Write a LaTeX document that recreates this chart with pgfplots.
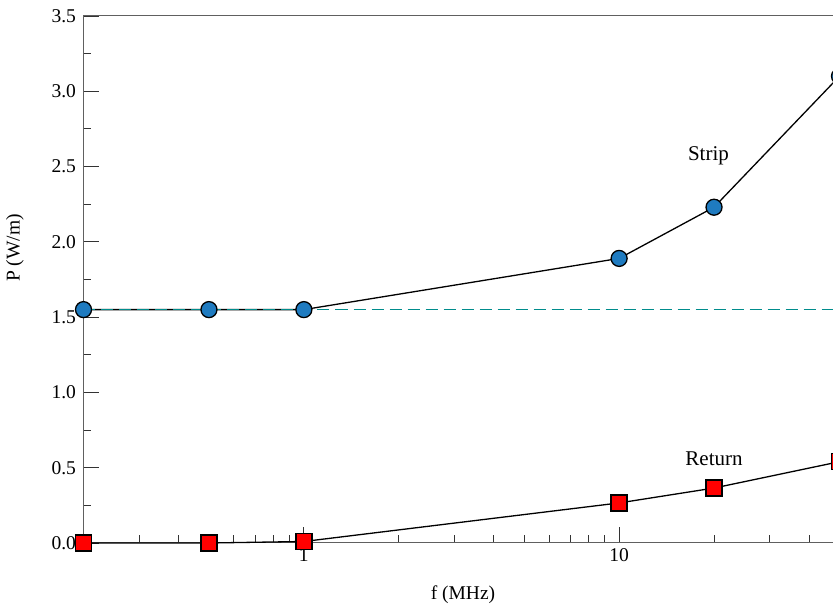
\documentclass[border=0pt]{standalone}
\usepackage{pgfplots}
\pgfplotsset{compat=1.18}
\usepackage{fontspec}
\setmainfont{Liberation Serif}
\definecolor{stripblue}{HTML}{1F7BC0}
\definecolor{dashteal}{RGB}{0,140,140}
\definecolor{axgray}{HTML}{606060}
\begin{document}
\begin{tikzpicture}[x=1pt,y=1pt]
\begin{axis}[
  at={(83.5pt,67pt)}, anchor=south west,
  scale only axis, width=756pt, height=527pt,
  xmode=log, xmin=0.2, xmax=50, ymin=0, ymax=3.5,
  axis line style={draw=axgray, line width=1pt},
  tick style={draw=black!80, line width=0.9pt},
  tick align=inside,
  major tick length=16pt, minor tick length=8pt,
  xtick={1,10}, xticklabels={1,10},
  minor xtick={0.3,0.4,0.5,0.6,0.7,0.8,0.9,2,3,4,5,6,7,8,9,20,30,40},
  ytick={0,0.5,1,1.5,2,2.5,3,3.5},
  minor ytick={0.25,0.75,1.25,1.75,2.25,2.75,3.25},
  tick pos=left,
  clip=false,
  /pgf/number format/assume math mode=true,
  ticklabel style={font=\fontsize{19.5}{22}\selectfont},
  yticklabel style={/pgf/number format/fixed, /pgf/number format/fixed zerofill, /pgf/number format/precision=1, xshift=-4pt},
  xticklabel style={yshift=-2pt},
]
\addplot[black, line width=1.3pt, mark=*, mark size=8pt,
  mark options={fill=stripblue, draw=black, line width=1.3pt}]
  coordinates {(0.2,1.55) (0.5,1.55) (1,1.55) (10,1.89) (20,2.23) (50,3.10)};
\addplot[black, line width=1.3pt, mark=square*, mark size=8pt,
  mark options={fill=red, draw=black, line width=1.3pt}]
  coordinates {(0.2,0.0) (0.5,0.0) (1,0.01) (10,0.266) (20,0.365) (50,0.54)};
\addplot[draw=dashteal, line width=1.7pt, dash pattern=on 12pt off 6pt, no marks]
  coordinates {(0.2,1.55) (50,1.55)};
\node[font=\fontsize{21}{24}\selectfont] at (axis cs:19.2,2.57) {Strip};
\node[font=\fontsize{21}{24}\selectfont] at (axis cs:20.0,0.558) {Return};
\end{axis}
\node[rotate=90, font=\fontsize{19.5}{22}\selectfont] at (15pt,362pt) {P (W/m)};
\node[font=\fontsize{19.5}{22}\selectfont] at (463pt,15pt) {f (MHz)};
\pgfresetboundingbox
\path (0pt,0pt) rectangle (833pt,610pt);
\end{tikzpicture}
\end{document}
